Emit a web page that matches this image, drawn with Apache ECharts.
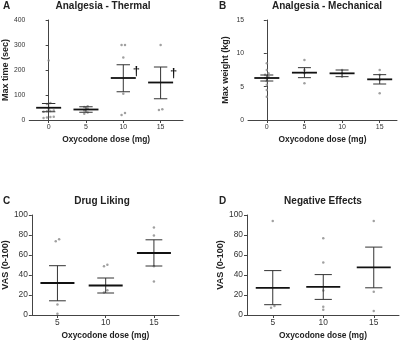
<!DOCTYPE html>
<html><head><meta charset="utf-8">
<script src="https://cdn.jsdelivr.net/npm/echarts@6/dist/echarts.min.js"></script>
<style>html,body{margin:0;padding:0;background:#fff}#c{width:400px;height:341px}</style>
</head><body><div id="c"></div>
<script>
// ---- data ----
const doses = [0, 5, 10, 15];
const vasDoses = [5, 10, 15];

const thermalMean = [49, 42, 168, 150];
const thermalLow = [33, 31, 113, 85];
const thermalHigh = [66, 53, 221, 212];
const thermalSig = [false, false, true, true];
const thermalPoints = [
  [238, 68, 64, 45, 38, 36, 35, 33, 13, 12, 10, 8],
  [55, 52, 45, 38, 30, 25],
  [300, 300, 250, 105, 28, 20],
  [300, 43, 40]
];

const mechMean = [6.3, 7.1, 7.0, 6.1];
const mechLow = [5.85, 6.35, 6.5, 5.4];
const mechHigh = [6.75, 7.85, 7.5, 6.8];
const mechPoints = [
  [8.5, 7.5, 7.0, 6.8, 6.5, 6.3, 5.8, 5.3, 4.5, 3.5],
  [9.0, 7.5, 7.0, 5.5],
  [7.5, 7.0, 6.5],
  [7.5, 6.8, 6.0, 4.0]
];

const likingMean = [32, 29.5, 62];
const likingLow = [14.2, 22, 49];
const likingHigh = [49.3, 37, 75.2];
const likingPoints = [
  [75.8, 73.8, 10.6, 1.3],
  [50.3, 48.7, 24.8, 22.5],
  [87.4, 79.5, 48.7, 33.4]
];

const negMean = [27.2, 28.1, 47.7];
const negLow = [10.3, 15.6, 27.2];
const negHigh = [44.4, 40.4, 67.9];
const negPoints = [
  [94, 8.9, 7.3],
  [76.8, 52.6, 24.5, 8.3, 5.3],
  [94, 23.2, 4]
];

// ---- helpers ----
const FONT = 'Liberation Sans, Arial, Helvetica, sans-serif';
const TXT = '#222';

function dotData(xs, pts, span) {
  const out = [];
  xs.forEach((x, ci) => {
    const vals = pts[ci];
    const idx = vals.map((v, i) => i).sort((a, b) => vals[a] - vals[b]);
    const clusters = [];
    idx.forEach(i => {
      const last = clusters[clusters.length - 1];
      if (last && Math.abs(vals[i] - vals[last[0]]) < span * 0.03) last.push(i);
      else clusters.push([i]);
    });
    clusters.forEach(cl => {
      cl.forEach((i, k) => {
        const off = (k - (cl.length - 1) / 2) * 3.4;
        out.push({ value: [x, vals[i]], symbolOffset: [off, 0] });
      });
    });
  });
  return out;
}

function barData(xs, mean, low, high, sig) {
  return xs.map((x, i) => [x, mean[i], low[i], high[i], sig && sig[i] ? 1 : 0]);
}

function errSeries(gi, data, meanHalf, capHalf) {
  return {
    type: 'custom', xAxisIndex: gi, yAxisIndex: gi, z: 3,
    renderItem: function (params, api) {
      const x = api.value(0);
      const pm = api.coord([x, api.value(1)]);
      const pl = api.coord([x, api.value(2)]);
      const ph = api.coord([x, api.value(3)]);
      const ws = { stroke: '#333', lineWidth: 1 };
      const children = [
        { type: 'line', shape: { x1: pl[0], y1: pl[1], x2: ph[0], y2: ph[1] }, style: ws },
        { type: 'line', shape: { x1: ph[0] - capHalf, y1: ph[1], x2: ph[0] + capHalf, y2: ph[1] }, style: ws },
        { type: 'line', shape: { x1: pl[0] - capHalf, y1: pl[1], x2: pl[0] + capHalf, y2: pl[1] }, style: ws },
        { type: 'line', shape: { x1: pm[0] - meanHalf, y1: pm[1], x2: pm[0] + meanHalf, y2: pm[1] }, style: { stroke: '#111', lineWidth: 1.8 } }
      ];
      if (api.value(4)) {
        children.push({ type: 'text', x: ph[0] + 13, y: ph[1],
          style: { text: '\u2020', fill: '#111', font: 'bold 13px ' + FONT, align: 'center', verticalAlign: 'top' } });
      }
      return { type: 'group', children: children };
    },
    data: data
  };
}

function scatterSeries(gi, data) {
  return { type: 'scatter', xAxisIndex: gi, yAxisIndex: gi, z: 2, symbol: 'circle', symbolSize: 2.5,
    itemStyle: { color: '#888' }, data: data, silent: true };
}

function xAxis(gi, min, max, ticks, fs, gap) {
  return { type: 'value', gridIndex: gi, min: min, max: max,
    name: 'Oxycodone dose (mg)', nameLocation: 'middle', nameGap: gap,
    nameTextStyle: { fontFamily: FONT, fontWeight: 'bold', fontSize: 8.4, color: TXT },
    axisLine: { show: true, onZero: false, lineStyle: { color: '#444', width: 1 } },
    axisTick: { show: true, length: 3, customValues: ticks, lineStyle: { color: '#444' } },
    axisLabel: { customValues: ticks, fontFamily: FONT, fontSize: fs, color: '#333', margin: 4 },
    splitLine: { show: false } };
}

function yAxis(gi, min, max, interval, name, fs, gap) {
  return { type: 'value', gridIndex: gi, min: min, max: max, interval: interval,
    name: name, nameLocation: 'middle', nameGap: gap,
    nameTextStyle: { fontFamily: FONT, fontWeight: 'bold', fontSize: 9, color: TXT },
    axisLine: { show: true, lineStyle: { color: '#444', width: 1 } },
    axisTick: { show: true, length: 3, lineStyle: { color: '#444' } },
    axisLabel: { fontFamily: FONT, fontSize: fs, color: '#333', margin: 4 },
    splitLine: { show: false } };
}

function ttl(text, cx, top, align) {
  return { text: text, left: cx, top: top, textAlign: align || 'center', padding: 0,
    textStyle: { fontFamily: FONT, fontWeight: 'bold', fontSize: 10, color: TXT } };
}

const option = {
  animation: false,
  backgroundColor: '#fff',
  title: [
    ttl('A', 3, 1, 'left'), ttl('Analgesia - Thermal', 103, 1),
    ttl('B', 219, 1, 'left'), ttl('Analgesia - Mechanical', 327, 1),
    ttl('C', 3, 196, 'left'), ttl('Drug Liking', 102, 196),
    ttl('D', 219, 196, 'left'), ttl('Negative Effects', 323, 196)
  ],
  grid: [
    { left: 26, top: 20, width: 157, height: 100 },
    { left: 248, top: 20, width: 149, height: 100 },
    { left: 27, top: 215, width: 152, height: 101 },
    { left: 247, top: 215, width: 152, height: 101 }
  ],
  xAxis: [
    xAxis(0, -2.6, 18, doses, 7, 16),
    xAxis(1, -2.5, 17.3, doses, 7, 16),
    xAxis(2, 2.35, 17.6, vasDoses, 8.4, 17),
    xAxis(3, 2.45, 17.5, vasDoses, 8.4, 17)
  ],
  yAxis: [
    yAxis(0, 0, 400, 100, 'Max time (sec)', 6.8, 17),
    yAxis(1, 0, 15, 5, 'Max weight (kg)', 6.8, 18),
    yAxis(2, 0, 100, 20, 'VAS (0-100)', 8.4, 17),
    yAxis(3, 0, 100, 20, 'VAS (0-100)', 8.4, 17)
  ],
  series: [
    scatterSeries(0, dotData(doses, thermalPoints, 400)),
    errSeries(0, barData(doses, thermalMean, thermalLow, thermalHigh, thermalSig), 12.5, 6.7),
    scatterSeries(1, dotData(doses, mechPoints, 15)),
    errSeries(1, barData(doses, mechMean, mechLow, mechHigh), 12.5, 6.5),
    scatterSeries(2, dotData(vasDoses, likingPoints, 100)),
    errSeries(2, barData(vasDoses, likingMean, likingLow, likingHigh), 17, 8.4),
    scatterSeries(3, dotData(vasDoses, negPoints, 100)),
    errSeries(3, barData(vasDoses, negMean, negLow, negHigh), 17, 8.6)
  ]
};
const chart = echarts.init(document.getElementById('c'), null, { renderer: 'canvas' });
chart.setOption(option);
</script></body></html>
